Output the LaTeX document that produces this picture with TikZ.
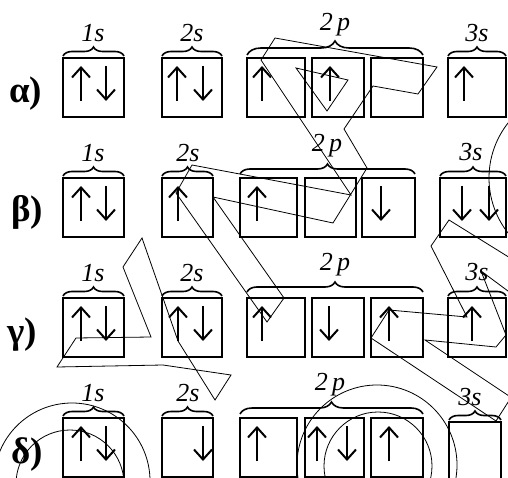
\documentclass[tikz,border=0pt]{standalone}
\usepackage{fontspec}
\setmainfont{Liberation Serif}
\usetikzlibrary{decorations.pathreplacing,arrows.meta}
\newcommand\myup[2]{\draw[spin] (#1,#2+43) -- (#1,#2+8);}
\newcommand\mydn[2]{\draw[spin] (#1,#2+8) -- (#1,#2+43);}
\begin{document}
\begin{tikzpicture}[x=1pt,y=-1pt,
  orb/.style={draw, line width=2pt, minimum height=59pt, inner sep=0pt, outer sep=0pt, anchor=north west},
  spin/.style={line width=2pt, -{Straight Barb[length=10pt,width=18pt]}},
  brc/.style={line width=1.6pt, decorate, decoration={brace, amplitude=#1}},
  brc/.default=9pt,
  lab/.style={font=\fontsize{26}{26}\selectfont\itshape, anchor=base, inner sep=0pt},
  row/.style={font=\fontsize{37}{37}\selectfont\bfseries, anchor=base west, inner sep=0pt},
  stray/.style={line width=0.8pt}]
\useasboundingbox (0,0) rectangle (508,478);
% ---------- alpha ----------
\node[row] (la) at (9,103) {α)};
\node[orb, minimum width=61pt] (a1) at (63,58) {};
\node[orb, minimum width=60pt] (a2) at (162,58) {};
\node[orb, minimum width=58pt] (a3) at (247,58) {};
\node[orb, minimum width=52pt] (a4) at (312,58) {};
\node[orb, minimum width=52pt] (a5) at (371,58) {};
\node[orb, minimum width=58pt] (a6) at (448,58) {};
\myup{81}{58}\mydn{106}{58}
\myup{177}{58}\mydn{203}{58}
\myup{262}{58}\myup{330}{58}\myup{464}{58}
\draw[brc] (63,56) -- (124,56);
\draw[brc] (162,56) -- (222,56);
\draw[brc=14pt] (247,55) -- (423,55);
\draw[brc] (448,56) -- (506,56);
\node[lab] (ta1) at (93,42) {1s};
\node[lab] (ta2) at (192,42) {2s};
\node[lab] (ta3) at (335,31) {2\,p};
\node[lab] (ta4) at (477,42) {3s};
% ---------- beta ----------
\node[row] (lb) at (11,222) {β)};
\node[orb, minimum width=61pt] (b1) at (63,178) {};
\node[orb, minimum width=51pt] (b2) at (162,178) {};
\node[orb, minimum width=57pt] (b3) at (240,178) {};
\node[orb, minimum width=51pt] (b4) at (305,178) {};
\node[orb, minimum width=53pt] (b5) at (362,178) {};
\node[orb, minimum width=66pt] (b6) at (440,178) {};
\myup{81}{178}\mydn{106}{178}
\myup{178}{178}
\myup{257}{178}\mydn{381}{178}
\mydn{462}{178}\mydn{489}{178}
\draw[brc] (63,176) -- (124,176);
\draw[brc] (162,176) -- (213,176);
\draw[brc=10pt] (240,174) -- (415,174);
\draw[brc] (440,176) -- (506,176);
\node[lab] (tb1) at (93,162) {1s};
\node[lab] (tb2) at (188,162) {2s};
\node[lab] (tb3) at (327,152) {2\,p};
\node[lab] (tb4) at (471,161) {3s};
% ---------- gamma ----------
\node[row] (lc) at (7,343) {γ)};
\node[orb, minimum width=61pt] (c1) at (63,298) {};
\node[orb, minimum width=60pt] (c2) at (162,298) {};
\node[orb, minimum width=58pt] (c3) at (247,298) {};
\node[orb, minimum width=52pt] (c4) at (312,298) {};
\node[orb, minimum width=52pt] (c5) at (371,298) {};
\node[orb, minimum width=58pt] (c6) at (448,298) {};
\myup{81}{298}\mydn{106}{298}
\myup{178}{298}\mydn{203}{298}
\myup{262}{298}\mydn{329}{298}\myup{389}{298}\myup{472}{298}
\draw[brc] (63,296) -- (124,296);
\draw[brc] (162,296) -- (222,296);
\draw[brc=10pt] (247,292) -- (423,292);
\draw[brc] (448,296) -- (506,296);
\node[lab] (tc1) at (93,281) {1s};
\node[lab] (tc2) at (192,281) {2s};
\node[lab] (tc3) at (335,270) {2\,p};
\node[lab] (tc4) at (477,280) {3s};
% ---------- delta ----------
\node[row] (ld) at (11,463) {δ)};
\node[orb, minimum width=61pt] (d1) at (63,418) {};
\node[orb, minimum width=51pt] (d2) at (162,418) {};
\node[orb, minimum width=57pt] (d3) at (240,418) {};
\node[orb, minimum width=59pt] (d4) at (305,418) {};
\node[orb, minimum width=52pt] (d5) at (371,418) {};
\node[orb, minimum width=52pt] (d6) at (449,422) {};
\myup{81}{418}\mydn{106}{418}
\mydn{203}{418}
\myup{257}{418}\myup{317}{418}\mydn{347}{418}\myup{389}{418}
\draw[brc] (63,416) -- (124,416);
\draw[brc] (162,416) -- (213,416);
\draw[brc=12pt] (240,414) -- (423,414);
\draw[brc] (449,420) -- (501,420);
\node[lab] (td1) at (93,401) {1s};
\node[lab] (td2) at (188,401) {2s};
\node[lab] (td3) at (330,390) {2\,p};
\node[lab] (td4) at (470,405) {3s};
% ---------- stray outlines ----------
\draw[stray] (275,38) -- (437,67) -- (418,94) -- (373,86) -- (344,129) -- (367,168)
  -- (333,223) -- (213,197) -- (284,298) -- (267,322) -- (176,193) -- (192,165)
  -- (351,195) -- (261,60) -- cycle;
\draw[stray] (296,68) -- (348,80) -- (327,111) -- cycle;
\draw[stray] (142,238) -- (123,267) -- (151,337) -- (76,338) -- (57,367) -- (163,365)
  -- (231,375) -- (215,400) -- (178,341) -- cycle;
\draw[stray] (515,261) -- (449,220) -- (431,246) -- (467,317) -- (389,310) -- (371,338)
  -- (496,421) -- (512,396);
\draw[stray] (512,294) -- (481,271) -- (506,335) -- (496,347) -- (425,340) -- (515,400);
\draw[stray] (578,178) circle (89);
\draw[stray] (72,481) circle (78);
\draw[stray] (70,484) circle (54);
\draw[stray] (377,465) circle (80);
\draw[stray] (378,466) circle (54);
\end{tikzpicture}
\end{document}
